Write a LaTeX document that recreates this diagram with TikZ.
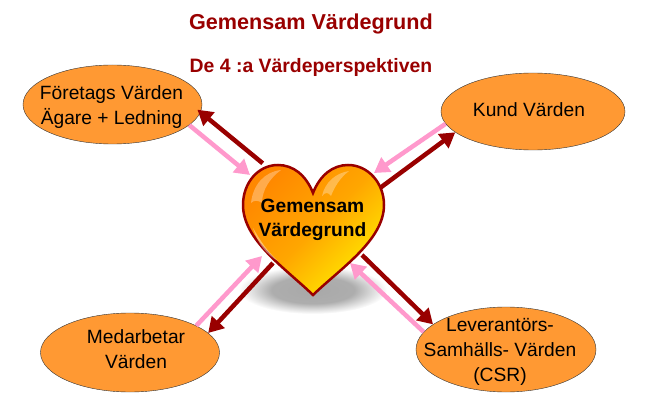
\documentclass[tikz,border=0pt]{standalone}
\usepackage{fontspec}
\setmainfont{Liberation Sans}
\usetikzlibrary{arrows.meta,shapes.geometric}
\definecolor{mörkröd}{HTML}{990000}
\definecolor{ljusrosa}{HTML}{FF99CC}
\definecolor{orangefyll}{HTML}{FF9933}
\definecolor{hjartaA}{HTML}{FF8800}
\definecolor{hjartaB}{HTML}{FFA600}
\definecolor{hjartaC}{HTML}{FFEA00}
\pgfdeclareradialshading{skugga}{\pgfpointorigin}{color(0bp)=(black!34); color(14bp)=(black!32); color(20bp)=(black!14); color(25bp)=(white); color(50bp)=(white)}
\tikzset{
	varde/.style={draw=black!80,fill=orangefyll,ellipse,inner sep=0pt,minimum width=179pt,minimum height=79pt},
	vardetext/.style={align=center,inner sep=0pt,font=\fontsize{19.2}{25}\selectfont},
	utpil/.style={draw=mörkröd,line width=4.5pt,-{Triangle[length=15pt,width=17pt]}},
	inpil/.style={draw=ljusrosa,line width=4.5pt,-{Triangle[length=15pt,width=17pt]}},
	rubrik/.style={text=mörkröd,font=\bfseries\fontsize{#1}{#1}\selectfont,inner sep=0pt}
}
\begin{document}
\begin{tikzpicture}[x=1pt,y=-1pt]
	\useasboundingbox (0,0) rectangle (649,420);
	\node[rubrik=21.6](titel) at (311,24){Gemensam Värdegrund};
	\node[rubrik=19.4](undertitel) at (311,67){De 4 :a Värdeperspektiven};
	\node[varde,label={[vardetext,xshift=-1pt,yshift=-2.5pt]center:{Företags Värden\\Ägare + Ledning}}](foretag) at (112.5,104.5){};
	\node[varde,minimum width=184pt,minimum height=77pt,label={[vardetext,xshift=-4pt,yshift=2pt]center:{Kund Värden}}](kund) at (533,111.5){};
	\node[varde,label={[vardetext,xshift=6pt,yshift=3.5pt]center:{Medarbetar\\Värden}}](medarbetar) at (130,352.5){};
	\node[varde,minimum width=180pt,minimum height=85pt,label={[vardetext,xshift=-6pt,yshift=-2.5pt]center:{Leverantörs-\\Samhälls- Värden\\(CSR)}}](leverantor) at (506,349.5){};
	\shade[shading=skugga] (313,290) ellipse (74 and 24);
	\coordinate (ut1) at (262.7,163.3);
	\coordinate (in1) at (250,175);
	\coordinate (ut2) at (380,188);
	\coordinate (in2) at (374,173);
	\coordinate (ut3) at (273,263);
	\coordinate (in3) at (262,256);
	\coordinate (ut4) at (362,255);
	\coordinate (in4) at (350,263);
	\draw[utpil,shorten >=-4pt] (ut1)--(foretag.-5);
	\draw[inpil] (foretag.-15)--(in1);
	\draw[utpil] (ut2)--(kund.195.3);
	\draw[inpil] (kund.188.9)--(in2);
	\draw[utpil] (ut3)--(medarbetar.14.7);
	\draw[inpil] (medarbetar.22.9)--(in3);
	\draw[utpil] (ut4)--(leverantor.161.4);
	\draw[inpil] (leverantor.168.8)--(in4);
	\path[draw=mörkröd,line width=2.5pt,left color=hjartaA,right color=hjartaC,middle color=hjartaB,shading angle=45]
		(313,193) .. controls (306,175) and (293,165) .. (278,165)
		.. controls (258,165) and (243,183) .. (243,205)
		.. controls (243,240) and (285,268) .. (313,295)
		.. controls (341,268) and (384,240) .. (384,205)
		.. controls (384,183) and (368,165) .. (348,165)
		.. controls (333,165) and (320,175) .. (313,193) -- cycle;
	\fill[white,opacity=.3] (251,203) .. controls (253,185) and (264,172) .. (281,170) .. controls (270,178) and (262,190) .. (262,203) .. controls (258,200) and (254,200) .. (251,203) -- cycle;
	\fill[white,opacity=.3] (322,196) .. controls (325,182) and (336,173) .. (349,171) .. controls (340,178) and (335,186) .. (331,196) .. controls (328,192) and (325,192) .. (322,196) -- cycle;
	\fill[white,opacity=.4] (253,228) .. controls (258,244) and (266,254) .. (278,261) .. controls (266,250) and (260,240) .. (253,228) -- cycle;
	\node[align=center,inner sep=0pt,font=\bfseries\fontsize{19.2}{24}\selectfont](hjarta) at (312.5,220){Gemensam\\Värdegrund};
\end{tikzpicture}
\end{document}
